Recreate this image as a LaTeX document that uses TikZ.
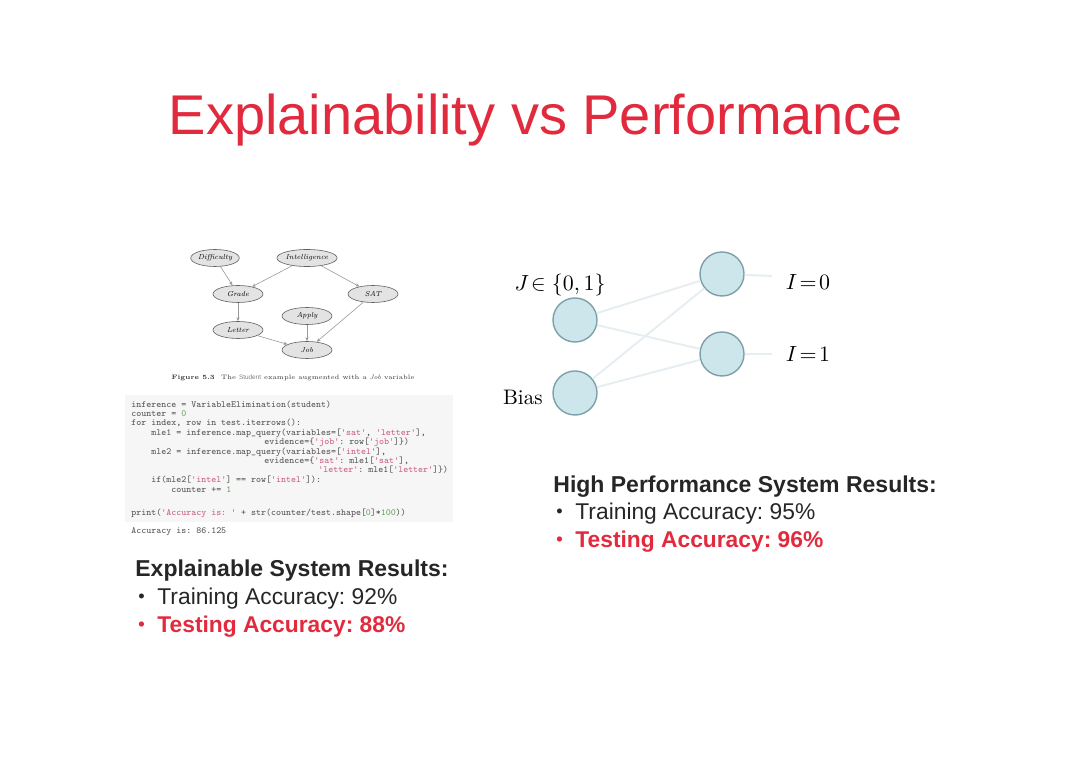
\documentclass[tikz,border=0pt]{standalone}
\usepackage{fontspec}
\usepackage{graphicx}
\setsansfont{Liberation Sans}
\usetikzlibrary{shapes.geometric,arrows.meta}
\definecolor{slidered}{RGB}{226,42,62}
\definecolor{nodeblue}{RGB}{205,230,236}
\definecolor{nodeedge}{RGB}{125,160,168}
\definecolor{wirecol}{RGB}{230,238,242}
\definecolor{codebg}{RGB}{246,246,246}
\definecolor{codetxt}{RGB}{85,85,85}
\definecolor{codestr}{RGB}{205,95,125}
\definecolor{codenum}{RGB}{95,165,95}
\newcommand{\pystr}[1]{\textcolor{codestr}{#1}}
\newcommand{\pynum}[1]{\textcolor{codenum}{#1}}
\newcommand{\bul}{\makebox[11pt][l]{\hspace{1.5pt}\raisebox{0.12em}{\scalebox{0.8}{\textbullet}}}}
\frenchspacing

\begin{document}
\begin{tikzpicture}[x=0.5pt,y=-0.5pt,
  bnode/.style={ellipse,draw=gray!75!black,fill=gray!22,line width=0.3pt,minimum width=25pt,minimum height=8.5pt,inner sep=0pt,font=\fontsize{3.6}{4}\selectfont\itshape},
  bedge/.style={draw=gray!80,line width=0.3pt,-{Stealth[length=2pt,width=1.6pt]}},
  codeline/.style={anchor=west,inner sep=0pt,text=codetxt,font=\fontsize{4.7}{4.7}\selectfont\ttfamily},
  neuron/.style={circle,draw=nodeedge,fill=nodeblue,line width=0.7pt,minimum size=22pt,inner sep=0pt},
  wire/.style={draw=wirecol,line width=1pt},
  nnlabel/.style={inner sep=0pt,font=\fontsize{10.5}{12}\selectfont},
  heading/.style={anchor=west,inner sep=0pt,font=\sffamily\bfseries\fontsize{11.5}{13}\selectfont,text=black!85},
  result/.style={anchor=west,inner sep=0pt,font=\sffamily\fontsize{11.4}{13}\selectfont,text=black!85},
  testline/.style={anchor=west,inner sep=0pt,font=\sffamily\bfseries\fontsize{11.4}{13}\selectfont,text=slidered}]
  \useasboundingbox (0,0) rectangle (1080,763);

  % title
  \node[font=\sffamily\fontsize{28}{32}\selectfont,text=slidered] (title) at (536,120) {Explainability vs Performance};

  % student network
  \node[bnode,minimum width=22pt] (diff)  at (215,258) {Difficulty};
  \node[bnode] (intel) at (307,258) {Intelligence};
  \node[bnode] (grade) at (238,294) {Grade};
  \node[bnode] (sat)   at (373,294) {SAT};
  \node[bnode] (apply) at (307,316) {Apply};
  \node[bnode] (letter) at (238,330) {Letter};
  \node[bnode] (job)   at (307,350) {Job};
  \draw[bedge] (diff) -- (grade);
  \draw[bedge] (intel) -- (grade);
  \draw[bedge] (intel) -- (sat);
  \draw[bedge] (grade) -- (letter);
  \draw[bedge] (letter) -- (job);
  \draw[bedge] (apply) -- (job);
  \draw[bedge] (sat) -- (job);
  \node[font=\fontsize{3.2}{4}\selectfont,text=black!80] (cap) at (293,378)
    {\textbf{Figure 5.3}\quad The {\sffamily\color{gray}Student} example augmented with a \textit{Job} variable};

  % code
  \fill[codebg] (125,395) rectangle (453,522);
  \node[codeline] (c1) at (131,405) {inference = VariableElimination(student)};
  \node[codeline] (c2) at (131,414) {counter = \pynum{0}};
  \node[codeline] (c3) at (131,423) {for index, row in test.iterrows():};
  \node[codeline] (c4) at (151,433) {mle1 = inference.map\_query(variables=[\pystr{'sat'}, \pystr{'letter'}],};
  \node[codeline] (c5) at (264,442) {evidence=\{\pystr{'job'}: row[\pystr{'job'}]\})};
  \node[codeline] (c6) at (151,452) {mle2 = inference.map\_query(variables=[\pystr{'intel'}],};
  \node[codeline] (c7) at (264,461) {evidence=\{\pystr{'sat'}: mle1[\pystr{'sat'}],};
  \node[codeline] (c8) at (318,470) {\pystr{'letter'}: mle1[\pystr{'letter'}]\})};
  \node[codeline] (c9) at (151,480) {if(mle2[\pystr{'intel'}] == row[\pystr{'intel'}]):};
  \node[codeline] (c10) at (171,490) {counter += \pynum{1}};
  \node[codeline] (c11) at (131,513) {print(\pystr{'Accuracy is: '} + str(counter/test.shape[\pynum{0}]*\pynum{100}))};
  \node[codeline] (c12) at (131,532) {Accuracy is: 86.125};

  % neural network
  \node[neuron] (jin)  at (575,320) {};
  \node[neuron] (bias) at (575,393) {};
  \node[neuron] (out0) at (722,274) {};
  \node[neuron] (out1) at (722,354) {};
  \coordinate (end0) at (772,276);
  \coordinate (end1) at (772,354);
  \draw[wire] (jin) -- (out0);
  \draw[wire] (jin) -- (out1);
  \draw[wire] (bias) -- (out0);
  \draw[wire] (bias) -- (out1);
  \draw[wire] (out0) -- (end0);
  \draw[wire] (out1) -- (end1);
  \node[nnlabel] (jlab) at (560,285) {$J\!\in\{0,1\}$};
  \node[nnlabel,anchor=east] (blab) at (543,397) {Bias};
  \node[nnlabel] (i0lab) at (808,282) {$I\!=\!0$};
  \node[nnlabel] (i1lab) at (808,354) {$I\!=\!1$};

  % results
  \node[heading] (hph) at (553,487) {High Performance System Results:};
  \node[result] (hp1) at (553,514) {\bul Training Accuracy: 95\%};
  \node[testline] (hp2) at (553,542) {\bul Testing Accuracy: 96\%};
  \node[heading] (exh) at (135,571) {Explainable System Results:};
  \node[result] (ex1) at (135,599) {\bul Training Accuracy: 92\%};
  \node[testline] (ex2) at (135,627) {\bul Testing Accuracy: 88\%};
\end{tikzpicture}
\end{document}
